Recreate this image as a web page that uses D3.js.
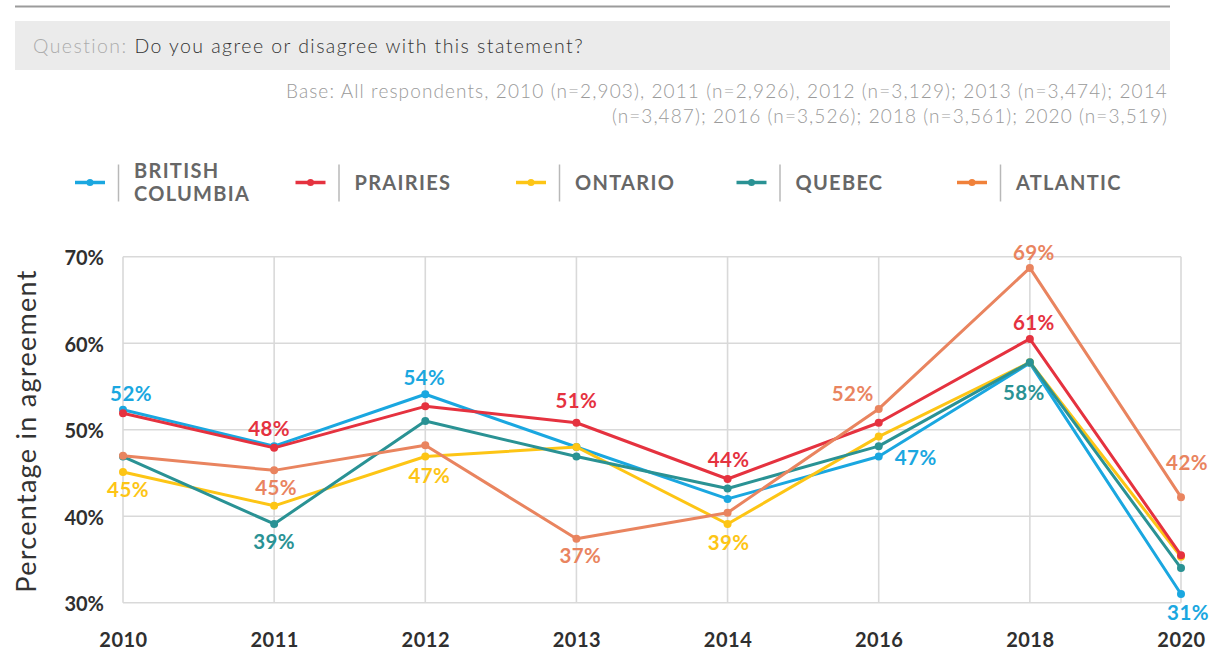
<!DOCTYPE html>
<html>
<head>
<meta charset="utf-8">
<script src="https://cdn.jsdelivr.net/npm/d3@7"></script>
<style>
  html, body { margin: 0; padding: 0; background: #fff; }
  svg { display: block; font-family: Lato, "Open Sans", sans-serif; }
</style>
</head>
<body>
<svg id="chart" width="1217" height="651"></svg>
<script>
// Survey years (x categories)
const years = ["2010", "2011", "2012", "2013", "2014", "2016", "2018", "2020"];

// Percentage in agreement, by region
const britishColumbia = [52.3, 48.1, 54.1, 48.0, 42.0, 46.9, 57.7, 31.0];
const prairies        = [51.9, 47.9, 52.7, 50.8, 44.3, 50.8, 60.5, 35.5];
const ontario         = [45.1, 41.2, 46.9, 48.0, 39.1, 49.2, 57.8, 35.3];
const quebec          = [46.9, 39.1, 51.0, 46.9, 43.2, 48.1, 57.8, 34.0];
const atlantic        = [47.0, 45.3, 48.2, 37.4, 40.4, 52.4, 68.7, 42.2];

const seriesNames = ["BRITISH COLUMBIA", "PRAIRIES", "ONTARIO", "QUEBEC", "ATLANTIC"];
const yTicks = [30, 40, 50, 60, 70];

const questionLabel = "Question:";
const questionText = "Do you agree or disagree with this statement?";
const baseLines = [
  "Base: All respondents, 2010 (n=2,903), 2011 (n=2,926), 2012 (n=3,129); 2013 (n=3,474); 2014",
  "(n=3,487); 2016 (n=3,526); 2018 (n=3,561); 2020 (n=3,519)"
];

// Styling
const lineColors   = ["#1aa7e0", "#e5323f", "#fdc515", "#2a9294", "#e9845f"];
const legendColors = ["#1aa7e0", "#e5323f", "#fdc515", "#2a9294", "#f0813a"];

const series = [
  { name: seriesNames[0], values: britishColumbia, color: lineColors[0], legend: legendColors[0] },
  { name: seriesNames[1], values: prairies,        color: lineColors[1], legend: legendColors[1] },
  { name: seriesNames[2], values: ontario,         color: lineColors[2], legend: legendColors[2] },
  { name: seriesNames[3], values: quebec,          color: lineColors[3], legend: legendColors[3] },
  { name: seriesNames[4], values: atlantic,        color: lineColors[4], legend: legendColors[4] }
];

// Value callouts: series index, year index, offset of label centre from the point
const callouts = [
  { s: 0, i: 0, dx: 8,   dy: -16 },
  { s: 2, i: 0, dx: 5,   dy: 18 },
  { s: 1, i: 1, dx: -5,  dy: -19 },
  { s: 4, i: 1, dx: 2,   dy: 17 },
  { s: 3, i: 1, dx: 0,   dy: 18 },
  { s: 0, i: 2, dx: -1,  dy: -17 },
  { s: 2, i: 2, dx: 4,   dy: 19 },
  { s: 1, i: 3, dx: 0,   dy: -22 },
  { s: 4, i: 3, dx: 4,   dy: 17 },
  { s: 1, i: 4, dx: 1,   dy: -19 },
  { s: 2, i: 4, dx: 1,   dy: 19 },
  { s: 4, i: 5, dx: -26, dy: -15 },
  { s: 0, i: 5, dx: 37,  dy: 1 },
  { s: 4, i: 6, dx: 4,   dy: -15 },
  { s: 1, i: 6, dx: 4,   dy: -16 },
  { s: 3, i: 6, dx: -6,  dy: 30 },
  { s: 4, i: 7, dx: 6,   dy: -35 },
  { s: 0, i: 7, dx: 7,   dy: 19 }
];

const svg = d3.select("#chart");

// Spread a text element's letters so it covers the given width
function fitWidth(sel, width) {
  sel.each(function() {
    const len = this.getComputedTextLength();
    const n = this.textContent.length;
    if (n > 1) d3.select(this).attr("letter-spacing", ((width - len) / (n - 1)).toFixed(3));
  });
}

// ---- Header ----
svg.append("line")
  .attr("x1", 15).attr("x2", 1170).attr("y1", 6.5).attr("y2", 6.5)
  .attr("stroke", "#9b9b9b").attr("stroke-width", 2);

svg.append("rect")
  .attr("x", 15).attr("y", 21).attr("width", 1155).attr("height", 49)
  .attr("fill", "#ebebeb");

const q = svg.append("text")
  .attr("x", 33).attr("y", 52.5)
  .attr("font-size", 19.5).attr("font-weight", 300);
q.append("tspan").attr("fill", "#ababab").text(questionLabel + " ");
q.append("tspan").attr("fill", "#333").text(questionText);
fitWidth(q, 550);

const baseWidths = [881, 555];
svg.selectAll("text.base")
  .data(baseLines)
  .join("text")
  .attr("class", "base")
  .attr("x", 1168)
  .attr("y", (d, i) => 98 + i * 25)
  .attr("text-anchor", "end")
  .attr("font-size", 19)
  .attr("font-weight", 300)
  .attr("fill", "#9a9a9a")
  .text(d => d)
  .each(function(d, i) { fitWidth(d3.select(this), baseWidths[i]); });

// ---- Legend ----
const legend = svg.append("g");
const legendItem = legend.selectAll("g")
  .data(series)
  .join("g")
  .attr("transform", (d, i) => `translate(${75 + i * 220.5},182.5)`);

legendItem.append("line")
  .attr("x1", 0).attr("x2", 30)
  .attr("stroke", d => d.legend).attr("stroke-width", 3.5);
legendItem.append("circle")
  .attr("cx", 15).attr("r", 3.5).attr("fill", d => d.legend);
legendItem.append("line")
  .attr("x1", 43.5).attr("x2", 43.5).attr("y1", -18).attr("y2", 19)
  .attr("stroke", "#b8b8b8").attr("stroke-width", 1.5);

legendItem.each(function(d) {
  const words = d.name.split(" ");
  const lines = words.length > 1 ? words : [d.name];
  const t = d3.select(this).append("text")
    .attr("x", 59)
    .attr("font-size", 20)
    .attr("font-weight", 700)
    .attr("fill", "#676767")
    .attr("letter-spacing", 1.3);
  lines.forEach((w, k) => {
    t.append("tspan")
      .attr("x", 59)
      .attr("y", lines.length > 1 ? (k === 0 ? -5 : 18) : 7)
      .text(w);
  });
});

// ---- Plot ----
const x = d3.scalePoint().domain(years).range([123, 1181]);
const y = d3.scaleLinear().domain([30, 70]).range([602.7, 256.7]);

const grid = svg.append("g");
grid.selectAll("line.h")
  .data(yTicks)
  .join("line")
  .attr("class", "h")
  .attr("x1", 123).attr("x2", 1181)
  .attr("y1", d => y(d)).attr("y2", d => y(d))
  .attr("stroke", "#d9d9d9").attr("stroke-width", 1.6);
grid.selectAll("line.v")
  .data(years)
  .join("line")
  .attr("class", "v")
  .attr("x1", d => x(d)).attr("x2", d => x(d))
  .attr("y1", y(70)).attr("y2", y(30))
  .attr("stroke", "#d9d9d9").attr("stroke-width", 1.6);

// Y axis tick labels
const yAxis = svg.append("g")
  .attr("transform", "translate(104,0)")
  .call(d3.axisLeft(y).tickValues(yTicks).tickSize(0).tickFormat(d => d + "%"));
yAxis.select(".domain").remove();
yAxis.selectAll("text")
  .attr("x", 0)
  .attr("dy", "0.4em")
  .attr("font-family", "Lato, sans-serif")
  .attr("font-size", 20)
  .attr("font-weight", 700)
  .attr("fill", "#2f2f2f");

// X axis tick labels
const xAxis = svg.append("g")
  .attr("transform", "translate(0,640)")
  .call(d3.axisBottom(x).tickSize(0));
xAxis.select(".domain").remove();
xAxis.selectAll("text")
  .attr("y", 0)
  .attr("dy", "0.36em")
  .attr("font-family", "Lato, sans-serif")
  .attr("font-size", 20)
  .attr("font-weight", 700)
  .attr("fill", "#2f2f2f")
  .attr("letter-spacing", 0.5);

// Y axis title
const yTitle = svg.append("text")
  .attr("transform", "translate(36,431) rotate(-90)")
  .attr("text-anchor", "middle")
  .attr("font-size", 27)
  .attr("font-weight", 400)
  .attr("fill", "#333")
  .text("Percentage in agreement");
fitWidth(yTitle, 322);

// Lines (drawn in stacking order)
const drawOrder = [0, 2, 1, 3, 4];
const lineGen = d3.line()
  .x((d, i) => x(years[i]))
  .y(d => y(d));

const lines = svg.append("g");
drawOrder.forEach(si => {
  const s = series[si];
  const g = lines.append("g");
  g.append("path")
    .datum(s.values)
    .attr("d", lineGen)
    .attr("fill", "none")
    .attr("stroke", s.color)
    .attr("stroke-width", 3)
    .attr("stroke-linejoin", "round");
  g.selectAll("circle")
    .data(s.values)
    .join("circle")
    .attr("cx", (d, i) => x(years[i]))
    .attr("cy", d => y(d))
    .attr("r", 4)
    .attr("fill", s.color);
});

// Value labels
svg.append("g").selectAll("text")
  .data(callouts)
  .join("text")
  .attr("x", d => x(years[d.i]) + d.dx)
  .attr("y", d => y(series[d.s].values[d.i]) + d.dy)
  .attr("dy", "0.36em")
  .attr("text-anchor", "middle")
  .attr("font-size", 20.5)
  .attr("font-weight", 700)
  .attr("fill", d => series[d.s].color)
  .attr("letter-spacing", 0.4)
  .text(d => Math.round(series[d.s].values[d.i]) + "%");
</script>
</body>
</html>
